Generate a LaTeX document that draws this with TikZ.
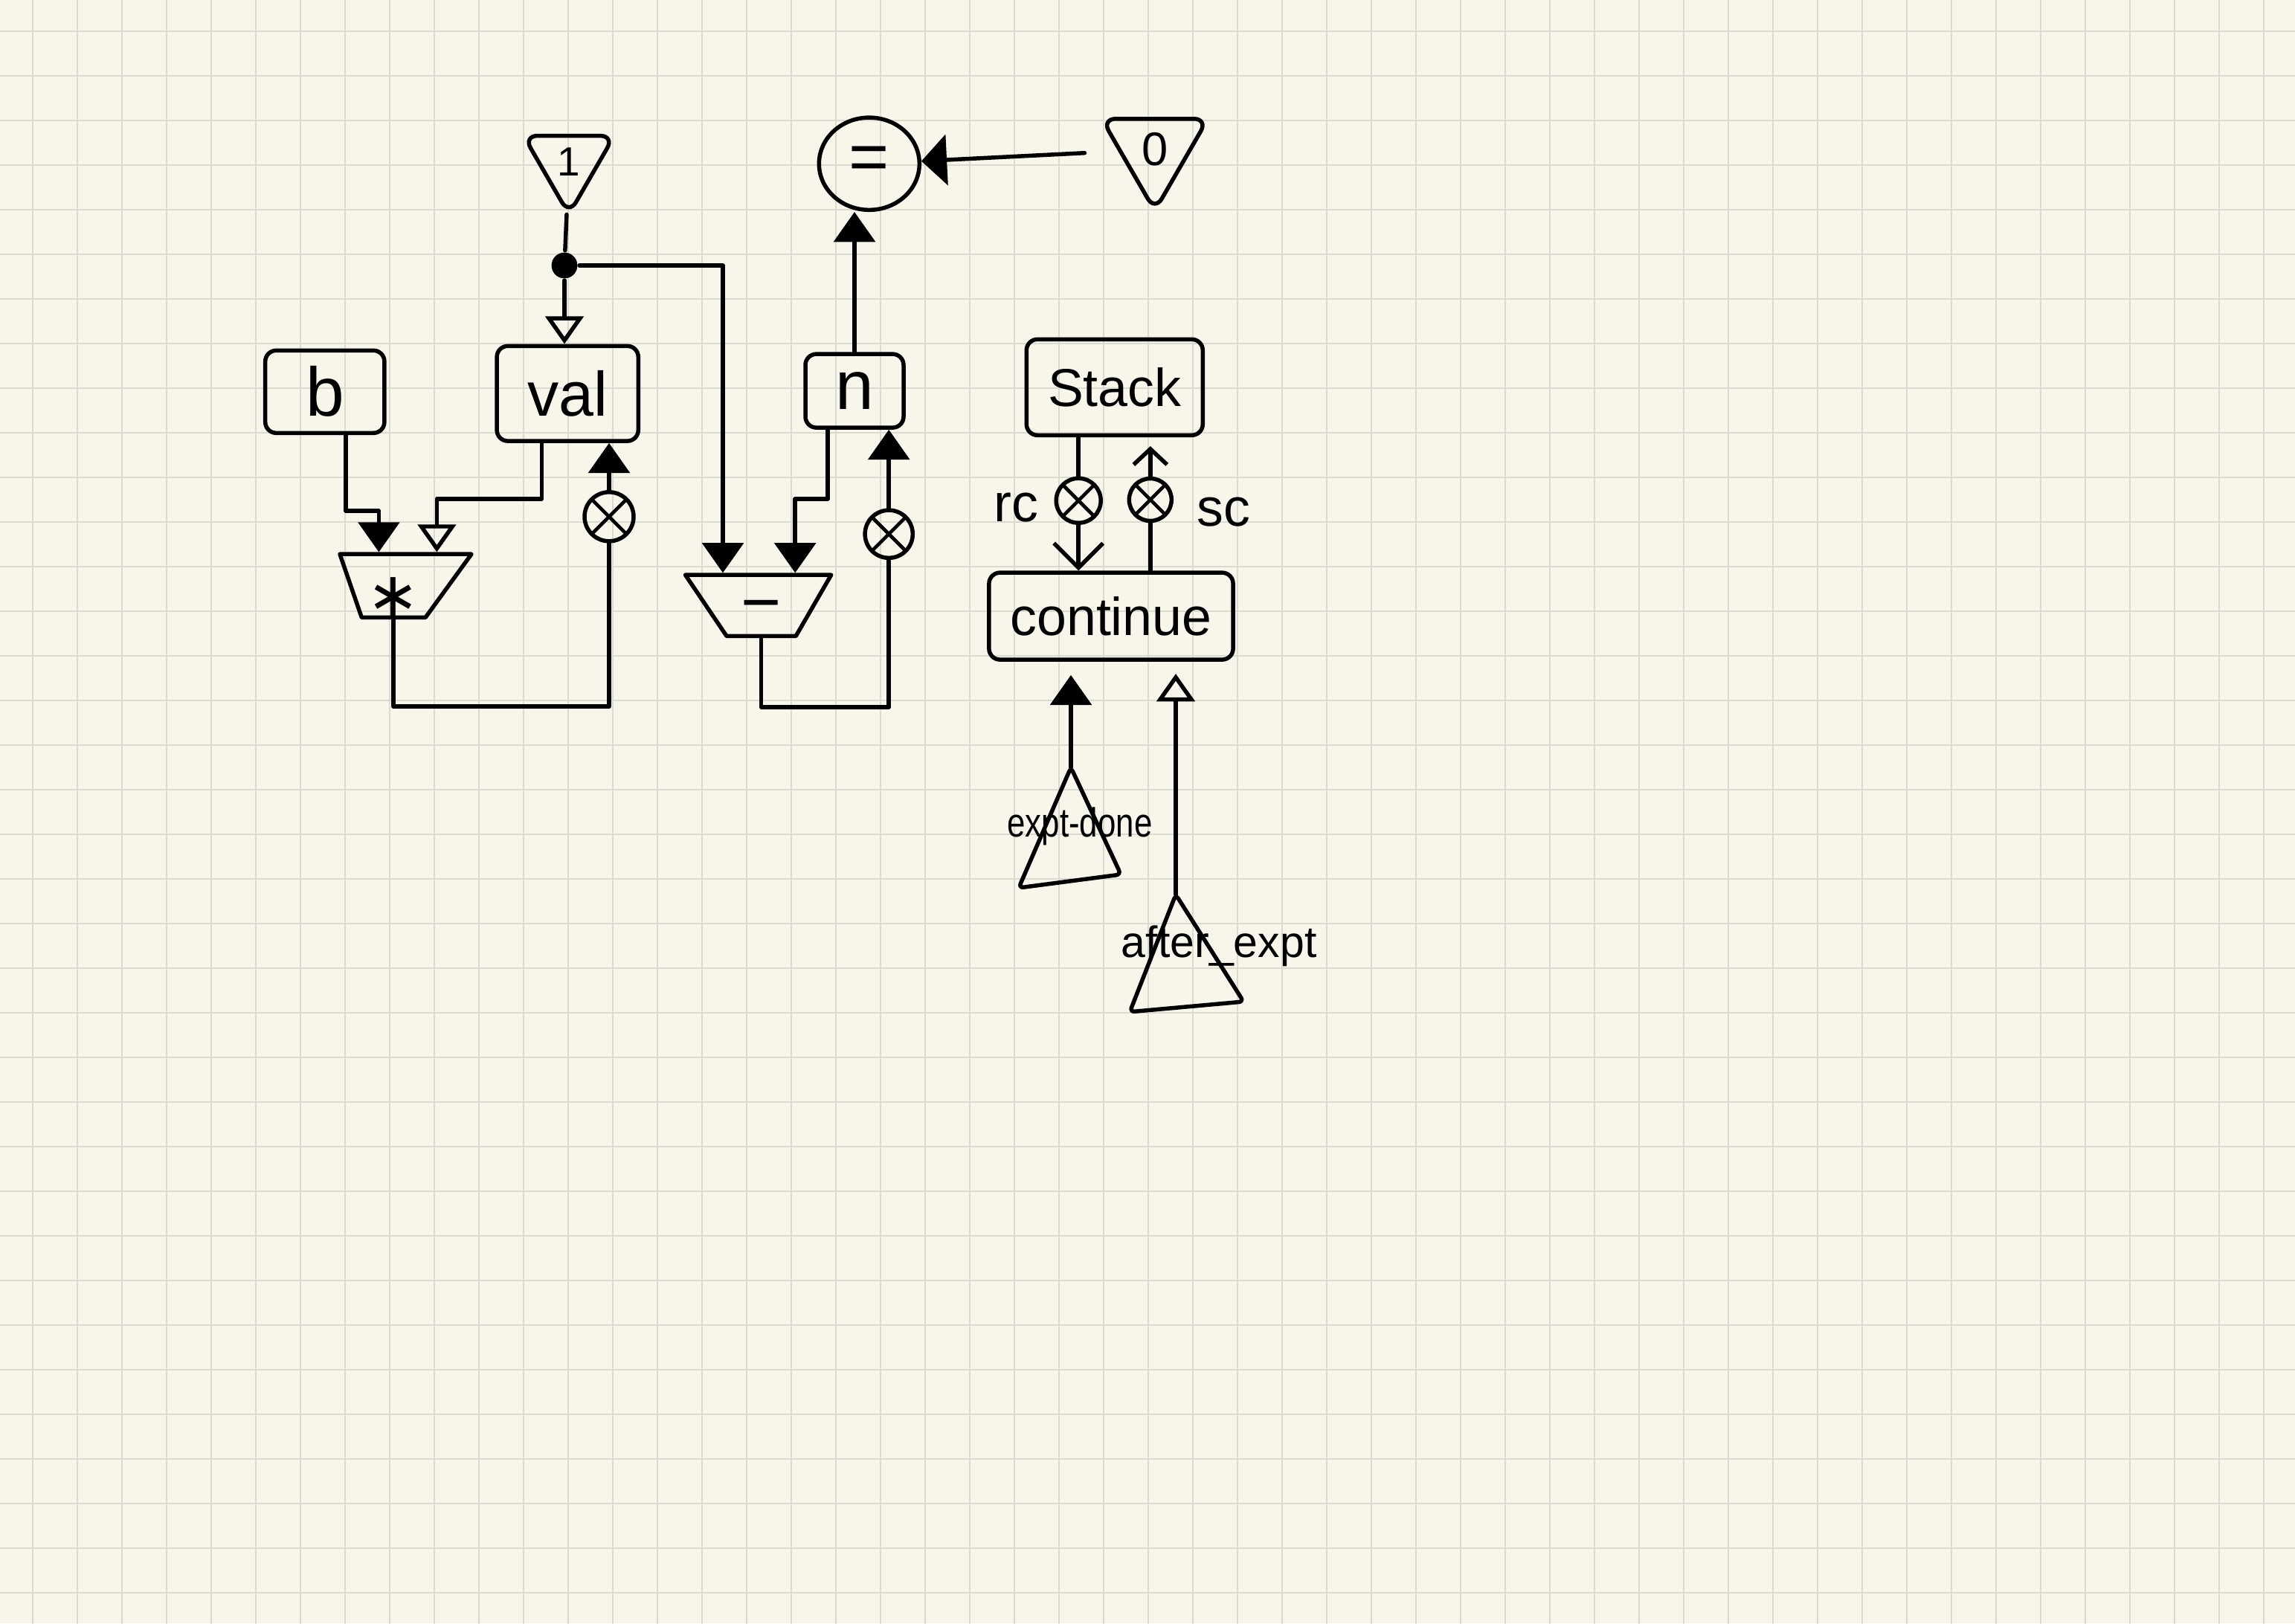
\documentclass[tikz,border=0pt]{standalone}
\usepackage{fontspec}
\setmainfont{Liberation Sans}
\newfontfamily\symfam{DejaVu Sans}
\usetikzlibrary{arrows.meta,shapes.geometric}
\definecolor{paper}{RGB}{248,246,234}
\definecolor{rule}{RGB}{219,218,208}
\tikzset{
	reg/.style={draw, rounded corners=7pt, inner sep=0pt, font=\fontsize{34}{40}\selectfont},
	alu/.style={draw, trapezium, shape border rotate=180, trapezium stretches body=true, inner sep=0pt},
	gate/.style={draw, circle, inner sep=0pt, minimum size=#1, path picture={\draw[line width=2.2pt] (path picture bounding box.north west) -- (path picture bounding box.south east) (path picture bounding box.north east) -- (path picture bounding box.south west);}},
	gate/.default=1.1cm,
	kst/.style={draw, regular polygon, regular polygon sides=3, shape border rotate=180, rounded corners=9pt, inner sep=0pt},
	junc/.style={circle, fill, inner sep=0pt, minimum size=0.58cm},
	tag/.style={font=\fontsize{34}{40}\selectfont},
	opentip/.style={-{Triangle[open,length=0.62cm,width=0.85cm]}},
	widetip/.style={-{Triangle[length=0.57cm,width=1.13cm]}},
	barb/.style={-{Straight Barb[length=0.55cm,width=1.1cm]}},
}
\begin{document}
\begin{tikzpicture}[line width=2.6pt, line cap=round, line join=round, >={Triangle[length=0.67cm,width=0.92cm]}]
	\useasboundingbox (0,0) rectangle (51.4333,-36.3833);
	\fill[paper] (0,0) rectangle (51.4333,-36.3833);
	\draw[rule, line width=1pt, shift={(0.7283,-0.705)}] (-0.7283,-35.6783) grid (50.705,0.705);

	\node[kst, minimum size=2.35cm, font=\fontsize{26}{26}\selectfont] (one) at (12.75,-3.63) {1};
	\node[kst, minimum size=2.75cm, font=\fontsize{30}{30}\selectfont] (zero) at (25.88,-3.35) {0};
	\node[draw, ellipse, minimum width=2.25cm, minimum height=2.07cm, inner sep=0pt, font=\fontsize{44}{44}\selectfont] (eq) at (19.48,-3.67) {=};
	\node[junc] (split) at (12.65,-5.95) {};

	\node[reg, minimum width=2.67cm, minimum height=1.85cm, font=\fontsize{44}{48}\selectfont] (b) at (7.28,-8.78) {b};
	\node[reg, minimum width=3.17cm, minimum height=2.13cm, font=\fontsize{40}{44}\selectfont] (val) at (12.72,-8.82) {val};
	\node[reg, minimum width=2.2cm, minimum height=1.65cm, font=\fontsize{44}{48}\selectfont] (n) at (19.15,-8.76) {n};
	\node[reg, minimum width=3.95cm, minimum height=2.15cm] (stack) at (24.98,-8.68) {Stack};
	\node[reg, minimum width=5.47cm, minimum height=1.95cm] (cont) at (24.9,-13.81) {continue};

	\node[alu, trapezium left angle=54, trapezium right angle=71, minimum width=2.95cm, text height=0.71cm, text depth=0.71cm, font=\symfam\fontsize{40}{40}\selectfont] (mul) at (8.82,-13.13) {\raisebox{-0.7cm}{∗}};
	\node[alu, trapezium left angle=60, trapezium right angle=56, minimum width=3.27cm, text height=0.685cm, text depth=0.685cm, font=\fontsize{44}{44}\selectfont] (sub) at (17.06,-13.57) {\raisebox{-0.46cm}{−}};

	\node[gate] (vgate) at (13.65,-11.58) {};
	\node[gate=1.07cm] (ngate) at (19.92,-11.97) {};
	\node[gate=1cm] (rcg) at (24.17,-11.22) {};
	\node[gate=0.95cm] (scg) at (25.78,-11.2) {};
	\node[tag] (rc) at (22.78,-11.38) {rc};
	\node[tag] (sc) at (27.42,-11.47) {sc};

	\coordinate (done) at (24.0,-17.2);
	\draw[rounded corners=3pt] (done) -- (22.83,-19.9) -- (25.12,-19.6) -- cycle;
	\node[font=\fontsize{26}{30}\selectfont] (donelbl) at (24.2,-18.53) {\scalebox{0.8}[1]{expt-done}};
	\coordinate (after) at (26.35,-20.05);
	\draw[rounded corners=3pt] (after) -- (25.32,-22.68) -- (27.87,-22.45) -- cycle;
	\node[font=\fontsize{28}{32}\selectfont] (afterlbl) at (27.32,-21.2) {after\_expt};

	\draw (one) -- (split);
	\draw[opentip] (split) -- (split |- val.north);
	\draw[->] (split) -| ([xshift=-0.86cm]sub.north);
	\draw[->] ([xshift=0.47cm]b.south) -- ++(0,-1.7) -| ([xshift=-0.33cm]mul.north);
	\draw[opentip] ([xshift=-0.58cm]val.south) -- ++(0,-1.25) -| ([xshift=0.97cm]mul.north);
	\draw (mul.south) -- ++(0,-1.95) -| (vgate.south);
	\draw[->] (vgate) -- (vgate |- val.south);
	\draw[->] ([xshift=-0.6cm]n.south) -- ++(0,-1.55) -| ([xshift=0.76cm]sub.north);
	\draw (sub.south) -- ++(0,-1.55) -| (ngate.south);
	\draw[->] (ngate) -- (ngate |- n.south);
	\draw[->] (n) -- (n |- eq.south);
	\draw[widetip, shorten <=0.75cm] (zero) -- (eq);
	\draw (rcg |- stack.south) -- (rcg);
	\draw[barb] (rcg) -- (rcg |- cont.north);
	\draw (scg |- cont.north) -- (scg);
	\draw[-{Straight Barb[length=0.35cm,width=0.75cm]}, shorten >=0.2cm] (scg) -- (scg |- stack.south);
	\draw[->, shorten >=0.3cm] (done) -- (done |- cont.south);
	\draw[opentip, shorten >=0.27cm] (after) -- (after |- cont.south);
\end{tikzpicture}
\end{document}
